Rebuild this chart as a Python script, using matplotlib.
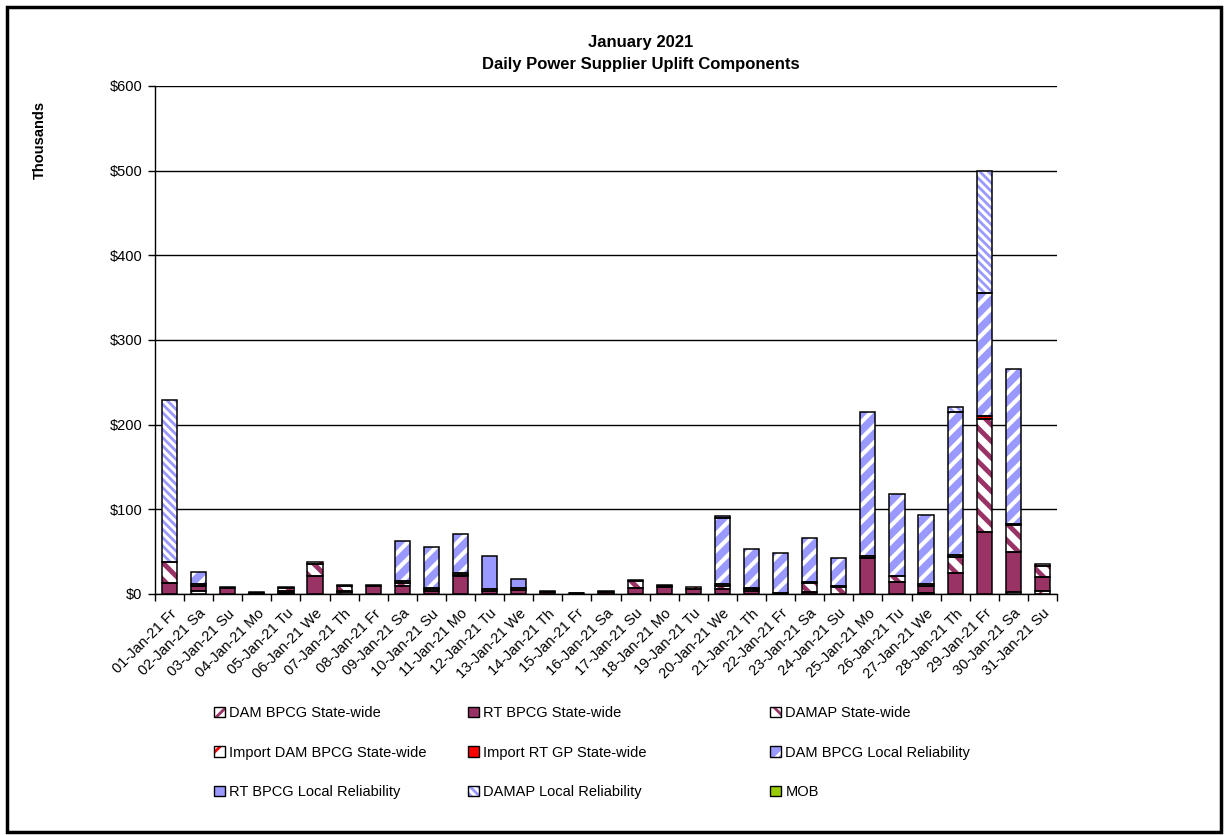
import matplotlib
matplotlib.use('Agg')
import matplotlib.pyplot as plt
import numpy as np
from matplotlib.patches import Patch, Rectangle

plt.rcParams['font.family'] = ['Liberation Sans', 'DejaVu Sans']
plt.rcParams['hatch.linewidth'] = 2.0

days = ['01-Jan-21 Fr', '02-Jan-21 Sa', '03-Jan-21 Su', '04-Jan-21 Mo', '05-Jan-21 Tu',
        '06-Jan-21 We', '07-Jan-21 Th', '08-Jan-21 Fr', '09-Jan-21 Sa', '10-Jan-21 Su',
        '11-Jan-21 Mo', '12-Jan-21 Tu', '13-Jan-21 We', '14-Jan-21 Th', '15-Jan-21 Fr',
        '16-Jan-21 Sa', '17-Jan-21 Su', '18-Jan-21 Mo', '19-Jan-21 Tu', '20-Jan-21 We',
        '21-Jan-21 Th', '22-Jan-21 Fr', '23-Jan-21 Sa', '24-Jan-21 Su', '25-Jan-21 Mo',
        '26-Jan-21 Tu', '27-Jan-21 We', '28-Jan-21 Th', '29-Jan-21 Fr', '30-Jan-21 Sa',
        '31-Jan-21 Su']

# values in $ thousands
dam_bpcg_sw     = [0, 3, 0, 0, 1, 0, 2, 0, 0, 0, 0, 0, 0, 0, 0, 0, 0, 0, 0, 0, 0, 0, 0, 0, 0, 0, 1, 0, 0, 2, 3]
rt_bpcg_sw      = [13, 7, 7, 1, 3, 21, 2, 9, 10, 3, 21, 4, 5, 2, 1, 2, 7, 8, 6, 6, 4, 1, 2, 0, 42, 14, 9, 25, 73, 48, 17]
damap_sw        = [25, 2, 0, 1, 3, 15, 6, 0, 3, 3, 1, 0, 0, 0, 0, 0, 8, 2, 0, 4, 2, 0, 11, 8, 1, 7, 0, 19, 134, 32, 13]
import_dam_sw   = [0, 0, 1, 0, 1, 2, 1, 2, 2, 1, 3, 2, 2, 2, 0.5, 2, 2, 1, 2, 2, 1, 0, 1, 1, 2, 0, 2, 2, 0, 1, 3]
import_rt_gp_sw = [0, 0, 0, 0, 0, 0, 0, 0, 0, 0, 0, 0, 0, 0, 0, 0, 0, 0, 0, 0, 0, 0, 0, 0, 0, 0, 0, 0, 3, 0, 0]
dam_bpcg_lr     = [0, 14, 0, 0, 0, 0, 0, 0, 48, 48, 46, 0, 0, 0, 0, 0, 0, 0, 0, 78, 46, 47, 52, 34, 170, 97, 81, 169, 145, 183, 0]
rt_bpcg_lr      = [0, 0, 0, 0, 0, 0, 0, 0, 0, 0, 0, 39, 11, 0, 0, 0, 0, 0, 0, 2, 0, 0, 0, 0, 0, 0, 0, 0, 0, 0, 0]
damap_lr        = [191, 0, 0, 0, 0, 0, 0, 0, 0, 0, 0, 0, 0, 0, 0, 0, 0, 0, 0, 0, 0, 0, 0, 0, 0, 0, 0, 6, 145, 0, 0]
mob             = [0] * 31

series_names = ['DAM BPCG State-wide', 'RT BPCG State-wide', 'DAMAP State-wide',
                'Import DAM BPCG State-wide', 'Import RT GP State-wide',
                'DAM BPCG Local Reliability', 'RT BPCG Local Reliability',
                'DAMAP Local Reliability', 'MOB']
series_vals = [dam_bpcg_sw, rt_bpcg_sw, damap_sw, import_dam_sw, import_rt_gp_sw,
               dam_bpcg_lr, rt_bpcg_lr, damap_lr, mob]

MAROON = '#993366'
BLUE = '#9999FF'
# (face, hatch, hatch colour, hatch linewidth)
styles = [
    ('white', '//', MAROON, 1.5),
    (MAROON, None, MAROON, 0),
    ('white', '\\\\', MAROON, 3.5),
    ('white', '//', 'red', 1.5),
    ('#FF0000', None, '#FF0000', 0),
    (BLUE, '//', 'white', 3.0),
    (BLUE, None, BLUE, 0),
    ('white', '\\\\\\\\', BLUE, 2.0),
    ('#99CC00', None, '#99CC00', 0),
]

W, H = 1228, 835
fig = plt.figure(figsize=(W / 100, H / 100), dpi=100)
ax = fig.add_axes([155 / W, 1 - 594 / H, (1057 - 155) / W, (594 - 86) / H])

x = np.arange(len(days))
bottom = np.zeros(len(days))
bw = 0.52
for vals, (face, hatch, hc, hlw) in zip(series_vals, styles):
    v = np.array(vals, dtype=float)
    m = v > 0
    if m.any():
        with plt.rc_context({'hatch.linewidth': hlw if hlw else 1.0}):
            bars = ax.bar(x[m], v[m], width=bw, bottom=bottom[m], color=face,
                          hatch=hatch, edgecolor=hc, linewidth=0, zorder=2)
        for p in bars:
            if hatch and hasattr(p, 'set_hatch_linewidth'):
                p.set_hatch_linewidth(hlw)
        ax.bar(x[m], v[m], width=bw, bottom=bottom[m], fill=False,
               edgecolor='black', linewidth=1.1, zorder=3)
    bottom += v

ax.set_xlim(-0.5, len(days) - 0.5)
ax.set_ylim(0, 600)
ax.set_yticks(np.arange(0, 601, 100))
ax.set_yticklabels(['$%d' % t for t in range(0, 601, 100)], fontsize=10.5)
ax.yaxis.grid(True, color='black', linewidth=1.0, zorder=0)
ax.set_axisbelow(True)
for s in ['top', 'right']:
    ax.spines[s].set_visible(False)
ax.spines['left'].set_linewidth(1.0)
ax.spines['bottom'].set_linewidth(1.0)
ax.tick_params(axis='y', direction='out', length=5, width=1, pad=4)

ax.set_xticks(x)
ax.set_xticklabels(days, rotation=45, ha='right', rotation_mode='anchor', fontsize=10.5)
ax.tick_params(axis='x', which='major', length=0, pad=9)
ax.set_xticks(np.arange(-0.5, len(days), 1), minor=True)
ax.tick_params(axis='x', which='minor', direction='out', length=5, width=1)

fig.text(0.522, 1 - 42 / H, 'January 2021', ha='center', va='center',
         fontsize=12, fontweight='bold')
fig.text(0.522, 1 - 64 / H, 'Daily Power Supplier Uplift Components', ha='center',
         va='center', fontsize=12, fontweight='bold')
fig.text(40 / W, 1 - 140 / H, 'Thousands', rotation=90, ha='center', va='center',
         fontsize=10.5, fontweight='bold')

handles = []
for (face, hatch, hc, hlw) in styles:
    with plt.rc_context({'hatch.linewidth': hlw if hlw else 1.0}):
        p1 = Patch(facecolor=face, hatch=hatch, edgecolor=hc, linewidth=0)
    if hatch and hasattr(p1, 'set_hatch_linewidth'):
        p1.set_hatch_linewidth(hlw)
    p2 = Patch(fill=False, edgecolor='black', linewidth=1.0)
    handles.append((p1, p2))

cols = [[0, 3, 6], [1, 4, 7], [2, 5, 8]]
col_x = [214, 468, 770]
for cx, idxs in zip(col_x, cols):
    fig.legend([handles[i] for i in idxs], [series_names[i] for i in idxs],
               loc='upper left', bbox_to_anchor=(cx / W, 1 - 706 / H),
               frameon=False, fontsize=10.5, handlelength=0.75, handleheight=0.75,
               handletextpad=0.3, labelspacing=1.75, borderaxespad=0, borderpad=0)

fig.patches.append(Rectangle((7 / W, 3 / H), (W - 14) / W, (H - 10) / H,
                             transform=fig.transFigure, fill=False,
                             edgecolor='black', linewidth=2.5))

fig.savefig('out.png', dpi=100)
